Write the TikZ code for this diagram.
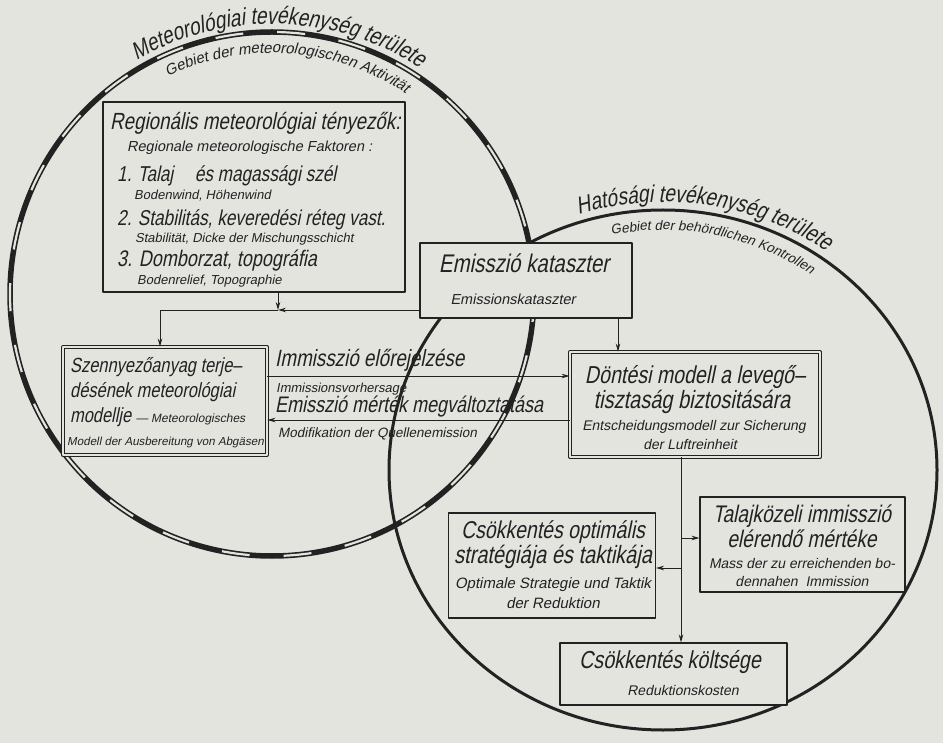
\documentclass[tikz,border=0pt]{standalone}
\usepackage{fontspec}
\usetikzlibrary{arrows.meta,decorations.text,calc}
\newfontfamily\lf{Liberation Sans}[FakeSlant=0.2,FakeStretch=0.8]
\newfontfamily\ls{Liberation Sans}[FakeSlant=0.2]
\newcommand\fbig[1]{\lf\fontsize{#1}{#1}\selectfont}
\newcommand\fsml[1]{\ls\fontsize{#1}{#1}\selectfont}
\definecolor{paper}{RGB}{228,228,223}
\definecolor{ink}{RGB}{34,34,34}
\begin{document}
\begin{tikzpicture}[x=1pt,y=-1pt,line join=round,
  box/.style={draw=ink,line width=1.1pt,fill=paper,rectangle,inner sep=0pt},
  dbox/.style={box,double=paper,double distance=2.4pt,line width=0.85pt},
  lbl/.style={inner sep=0pt,anchor=base west,text=ink},
  ctr/.style={inner sep=0pt,anchor=base,text=ink},
  arr/.style={draw=ink,line width=0.9pt,-{Stealth[length=8pt,width=4.5pt]}}]
\useasboundingbox (0,0) rectangle (943,743);
\fill[paper] (0,0) rectangle (943,743);
% circles
\coordinate (C1) at (272,294);
\coordinate (C2) at (663,470);
\draw[ink,line width=5.5pt] (C1) circle[radius=262];
\draw[paper,line width=2.2pt,dash pattern=on 28pt off 34pt] (C1) circle[radius=262];
\draw[ink,line width=3pt] (C2) ellipse[x radius=274,y radius=260];
% curved titles
\path[decorate,decoration={text along path,text align=center,
  text={|\fbig{24}\color{ink}|Meteorológiai tevékenység területe}}]
  (C1) ++(-126:270) arc[start angle=-126,end angle=-51,radius=270];
\path[decorate,decoration={text along path,text align=center,
  text={|\fsml{15}\color{ink}|Gebiet der meteorologischen Aktivität}}]
  (C1) ++(-122:241) arc[start angle=-122,end angle=-50,radius=241];
\path[decorate,decoration={text along path,text align=center,
  text={|\fbig{24}\color{ink}|Hatósági tevékenység területe}}]
  (C2) ++(-114:282 and 268) arc[start angle=-114,end angle=-48,x radius=282,y radius=268];
\path[decorate,decoration={text along path,text align=center,
  text={|\fsml{13.5}\color{ink}|Gebiet der behördlichen Kontrollen}}]
  (C2) ++(-108:254 and 240) arc[start angle=-108,end angle=-48,x radius=254,y radius=240];
% boxes
\node[box,minimum width=302pt,minimum height=190pt] (reg) at (254,197) {};
\node[box,minimum width=212pt,minimum height=75pt] (emi) at (526,280.5) {};
\node[dbox,minimum width=204pt,minimum height=108pt] (sze) at (165,401) {};
\node[dbox,minimum width=250pt,minimum height=105pt] (don) at (695,404.5) {};
\node[box,minimum width=205pt,minimum height=95pt] (tal) at (802.5,544.5) {};
\node[box,minimum width=207pt,minimum height=105pt] (opt) at (552,565.5) {};
\node[box,minimum width=227pt,minimum height=62pt] (kol) at (673.5,674) {};
% regional text
\node[lbl] (r1) at (110,130) {\fbig{23.4}Regionális meteorológiai tényezők:};
\node[lbl] (r2) at (127,152) {\fsml{14.5}Regionale meteorologische Faktoren :};
\node[lbl] (r3) at (117,182) {\fbig{21.5}1. Talaj\quad és magassági szél};
\node[lbl] (r4) at (134,199.5) {\fsml{13}Bodenwind, Höhenwind};
\node[lbl] (r5) at (117,226) {\fbig{21.5}2. Stabilitás, keveredési réteg vast.};
\node[lbl] (r6) at (135,243) {\fsml{13}Stabilität, Dicke der Mischungsschicht};
\node[lbl] (r7) at (117,267) {\fbig{22.5}3. Domborzat, topográfia};
\node[lbl] (r8) at (137,284.5) {\fsml{13}Bodenrelief, Topographie};
% emission text
\node[ctr] (e1) at (524,273) {\fbig{25.5}Emisszió kataszter};
\node[ctr] (e2) at (513,305) {\fsml{14.5}Emissionskataszter};
% left model text
\node[lbl] (s1) at (70,373) {\fbig{20.5}Szennyezőanyag terje–};
\node[lbl] (s2) at (70,398) {\fbig{20.5}désének meteorológiai};
\node[lbl] (s3) at (70,423) {\fbig{20.5}modellje \fsml{12}— Meteorologisches};
\node[lbl] (s4) at (67,445) {\fsml{11.6}Modell der Ausbereitung von Abgäsen};
% decision text
\node[ctr] (d1) at (695,384) {\fbig{24.5}Döntési modell a levegő–};
\node[ctr] (d2) at (692,409) {\fbig{25}tisztaság biztositására};
\node[ctr] (d3) at (694,431) {\fsml{14}Entscheidungsmodell zur Sicherung};
\node[ctr] (d4) at (690,449) {\fsml{14}der Luftreinheit};
% arrow labels
\node[lbl] (a1) at (275,367) {\fbig{23.5}Immisszió előrejelzése};
\node[lbl] (a1s) at (276,392) {\fsml{13}Immissionsvorhersage};
\node[lbl] (a2) at (275,413) {\fbig{22.5}Emisszió mérték megváltoztatása};
\node[lbl] (a2s) at (278,438) {\fsml{13.5}Modifikation der Quellenemission};
% talaj text
\node[ctr] (t1) at (802,522) {\fbig{24}Talajközeli immisszió};
\node[ctr] (t2) at (802,547) {\fbig{24}elérendő mértéke};
\node[ctr] (t3) at (802,568) {\fsml{14}Mass der zu erreichenden bo-};
\node[ctr] (t4) at (802,586) {\fsml{14}dennahen\ \ Immission};
% optimal text
\node[ctr] (o1) at (553,538) {\fbig{24.3}Csökkentés optimális};
\node[ctr] (o2) at (553,563) {\fbig{25}stratégiája és taktikája};
\node[ctr] (o3) at (553,588) {\fsml{15}Optimale Strategie und Taktik};
\node[ctr] (o4) at (553,608) {\fsml{15}der Reduktion};
% cost text
\node[ctr] (k1) at (670,668) {\fbig{24.6}Csökkentés költsége};
\node[ctr] (k2) at (683,695) {\fsml{14}Reduktionskosten};
% connectors
\coordinate (j1) at (278,310);
\coordinate (j2) at (160,310);
\draw[arr] (reg.south -| j1) -- (j1);
\draw[arr] (emi.west |- j1) -- (j1);
\draw[arr] (j1) -- (j2) -- (sze.north -| j2);
\coordinate (ex) at (618,0);
\draw[arr] (emi.south -| ex) -- (don.north -| ex);
\coordinate (ay1) at (0,376);
\coordinate (ay2) at (0,420);
\draw[arr] (sze.east |- ay1) -- (don.west |- ay1);
\draw[arr] (don.west |- ay2) -- (sze.east |- ay2);
\coordinate (vx) at (681,0);
\draw[arr] (don.south -| vx) -- (kol.north -| vx);
\coordinate (by1) at (0,538);
\coordinate (by2) at (0,568);
\draw[arr] (vx |- by1) -- (tal.west |- by1);
\draw[arr] (vx |- by2) -- (opt.east |- by2);
\end{tikzpicture}
\end{document}
